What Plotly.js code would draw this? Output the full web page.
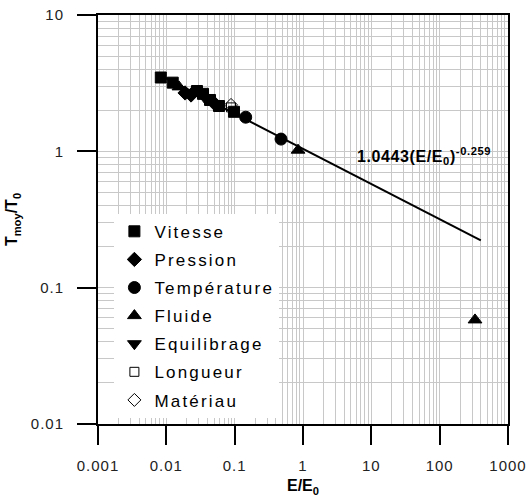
<!DOCTYPE html>
<html><head><meta charset="utf-8">
<script src="https://cdn.plot.ly/plotly-3.0.1.min.js"></script>
<style>
html,body{margin:0;padding:0;background:#fff;}
#chart{width:528px;height:498px;}
.legendtext{letter-spacing:2.2px;}
.xtick text,.ytick text{letter-spacing:1px;}
.annotation-text{letter-spacing:0.6px;}
</style></head>
<body><div id="chart"></div>
<script>
// Data
const vitesseX = [0.0083, 0.0124, 0.0281, 0.0344, 0.0436, 0.0590, 0.0977];
const vitesseY = [3.48, 3.19, 2.77, 2.64, 2.38, 2.15, 1.95];
const pressionX = [0.0188, 0.0230, 0.0499];
const pressionY = [2.68, 2.59, 2.26];
const temperatureX = [0.145, 0.477];
const temperatureY = [1.78, 1.23];
const fluideX = [0.0153, 0.846, 329];
const fluideY = [2.97, 1.02, 0.058];
const equilibrageX = [0.0368];
const equilibrageY = [2.46];
const longueurX = [0.0884];
const longueurY = [2.10];
const materiauX = [0.0884];
const materiauY = [2.19];
const fitX = [0.008, 400];
const fitY = [3.63, 0.222];

const xTickVals = [0.001, 0.01, 0.1, 1, 10, 100, 1000];
const xTickText = ['0.001', '0.01', '0.1', '1', '10', '100', '1000'];
const yTickVals = [0.01, 0.1, 1, 10];
const yTickText = ['0.01', '0.1', '1', '10'];

function minorVals(lo, hi) {
  const v = [];
  for (let e = lo; e < hi; e++) for (let m = 2; m <= 9; m++) v.push(m * Math.pow(10, e));
  return v;
}

const FONT = 'Liberation Sans, Arial, sans-serif';
function sc(name, x, y, symbol, size) {
  return {
    type: 'scatter', mode: 'markers', name: name, x: x, y: y, legendgroup: name,
    marker: {symbol: symbol, size: size, color: '#000000', line: {color: '#000000', width: 1}},
  };
}
const traces = [
  {type: 'scatter', mode: 'lines', x: fitX, y: fitY, showlegend: false,
   line: {color: '#000000', width: 2}},
  sc('Vitesse', vitesseX, vitesseY, 'square', 11),
  sc('Pression', pressionX, pressionY, 'diamond', 11),
  sc('Température', temperatureX, temperatureY, 'circle', 12),
  sc('Fluide', fluideX, fluideY, 'triangle-up', 12),
  sc('Equilibrage', equilibrageX, equilibrageY, 'triangle-down', 12),
  sc('Longueur', longueurX, longueurY, 'square-open', 9),
  sc('Matériau', materiauX, materiauY, 'diamond-open', 10),
];

const axisCommon = {
  type: 'log', showline: true, linecolor: '#000', linewidth: 2, mirror: true,
  ticks: 'outside', ticklen: 19, tickwidth: 2, tickcolor: '#000',
  showgrid: true, gridcolor: '#c8c8c8', gridwidth: 1, zeroline: false,
  tickfont: {family: FONT, size: 15, color: '#222'},
  tickmode: 'array',
};
const layout = {
  width: 528, height: 498,
  margin: {l: 98, r: 20, t: 15, b: 74},
  paper_bgcolor: '#fff', plot_bgcolor: '#fff',
  font: {family: FONT, color: '#000'},
  xaxis: Object.assign({}, axisCommon, {
    range: [-3, 3], tickvals: xTickVals, ticktext: xTickText, ticklabelstandoff: 8,
    minor: {tickmode: 'array', tickvals: minorVals(-3, 3), showgrid: true, gridcolor: '#c8c8c8', gridwidth: 1, ticks: ''},
    title: {text: '<b>E/E<sub>0</sub></b>', font: {family: FONT, size: 16}, standoff: 7},
  }),
  yaxis: Object.assign({}, axisCommon, {
    range: [-2, 1], tickvals: yTickVals, ticktext: yTickText, ticklabelstandoff: 10,
    minor: {tickmode: 'array', tickvals: minorVals(-2, 1), showgrid: true, gridcolor: '#c8c8c8', gridwidth: 1, ticks: ''},
    title: {text: '<b>T<sub>moy</sub>/T<sub>0</sub></b>', font: {family: FONT, size: 16}, standoff: 9},
  }),
  legend: {
    x: 0.04, y: 0.514, xanchor: 'left', yanchor: 'top',
    bgcolor: '#ffffff', borderwidth: 0, traceorder: 'grouped', tracegroupgap: 3,
    font: {family: FONT, size: 17, color: '#000'},
  },
  annotations: [{
    xref: 'paper', yref: 'paper', x: 0.627, y: 0.655, xanchor: 'left', yanchor: 'middle',
    showarrow: false, text: '<b>1.0443(E/E<sub>0</sub>)<sup>-0.259</sup></b>',
    font: {family: FONT, size: 16, color: '#000'},
  }],
  showlegend: true,
};
Plotly.newPlot('chart', traces, layout, {staticPlot: true, displayModeBar: false});
</script></body></html>
